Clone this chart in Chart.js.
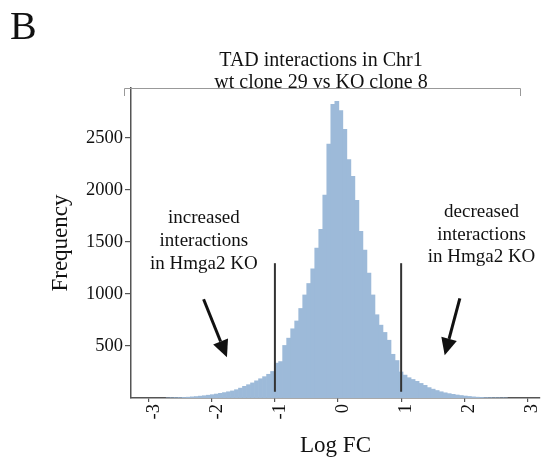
<!DOCTYPE html>
<html>
<head>
<meta charset="utf-8">
<script src="https://cdn.jsdelivr.net/npm/chart.js@4.4.1/dist/chart.umd.min.js"></script>
<style>
  body { margin: 0; background: #fff; }
  #wrap { position: relative; width: 548px; height: 465px; }
  #panel { position: absolute; left: 10px; top: 6px; font: 40px/40px "Liberation Serif", "Times New Roman", serif; color: #111; }
  #title { position: absolute; left: 171px; width: 300px; top: 49px; text-align: center;
           font: 20px/21.5px "Liberation Serif", "Times New Roman", serif; color: #111; }
</style>
</head>
<body>
<div id="wrap">
  <canvas id="chart" width="548" height="465"></canvas>
  <div id="panel">B</div>
  <div id="title">TAD interactions in Chr1<br>wt clone 29 vs KO clone 8</div>
</div>
<script>
// histogram bins (Log FC)
const binStart = -2.722;
const binWidth = 0.0636;
const counts = [
  1, 2, 3, 4, 6, 8, 11, 14, 18, 22,
  27, 32, 38, 45, 52, 60, 68, 80, 95, 112,
  128, 145, 165, 185, 205, 228, 255, 335, 350, 505,
  575, 665, 740, 860, 990, 1100, 1240, 1440, 1620, 1950,
  2440, 2820, 2850, 2760, 2580, 2290, 2130, 1900, 1600, 1420,
  1200, 990, 800, 700, 630, 555, 420, 360, 250, 220,
  195, 178, 160, 140, 122, 100, 85, 72, 60, 50,
  42, 35, 29, 24, 19, 15, 11, 8, 6, 4,
  3, 2, 2, 1, 1
];

// axis ticks
const xTicks = [-3, -2, -1, 0, 1, 2, 3];
const yTicks = [500, 1000, 1500, 2000, 2500];

// cut-off lines at |logFC| = 1
const cutoffs = [-1, 1];
const cutoffSpan = [60, 1295];

// notes and arrows (data coordinates)
const notes = [
  { x: -2.125, y: 1728, lines: ["increased", "interactions", "in Hmga2 KO"] },
  { x: 2.273, y: 1788, lines: ["decreased", "interactions", "in Hmga2 KO"] }
];
const arrows = [
  { from: [-2.13, 949], to: [-1.76, 391] },
  { from: [1.93, 958], to: [1.69, 410] }
];

const serif = '"Liberation Serif", "Times New Roman", serif';
Chart.defaults.font.family = serif;
Chart.defaults.color = "#111";

const histData = counts.map((c, i) => ({ x: binStart + (i + 0.5) * binWidth, y: c }));

const cutoffSets = cutoffs.map(v => ({
  type: "line",
  data: [{ x: v, y: cutoffSpan[0] }, { x: v, y: cutoffSpan[1] }],
  borderColor: "#333",
  borderWidth: 2,
  pointRadius: 0,
  order: 1
}));

const notesPlugin = {
  id: "notes",
  afterDatasetsDraw(chart) {
    const { ctx, scales: { x, y } } = chart;
    ctx.save();
    // arrows
    ctx.strokeStyle = "#111";
    ctx.fillStyle = "#111";
    ctx.lineWidth = 3;
    arrows.forEach(a => {
      const x0 = x.getPixelForValue(a.from[0]), y0 = y.getPixelForValue(a.from[1]);
      const x1 = x.getPixelForValue(a.to[0]), y1 = y.getPixelForValue(a.to[1]);
      const ang = Math.atan2(y1 - y0, x1 - x0);
      const head = 17, half = 8;
      const bx = x1 - head * Math.cos(ang), by = y1 - head * Math.sin(ang);
      ctx.beginPath();
      ctx.moveTo(x0, y0);
      ctx.lineTo(bx, by);
      ctx.stroke();
      ctx.beginPath();
      ctx.moveTo(x1, y1);
      ctx.lineTo(bx + half * Math.sin(ang), by - half * Math.cos(ang));
      ctx.lineTo(bx - half * Math.sin(ang), by + half * Math.cos(ang));
      ctx.closePath();
      ctx.fill();
    });
    // text
    ctx.font = "19px " + serif;
    ctx.textAlign = "center";
    ctx.textBaseline = "middle";
    notes.forEach(n => {
      const px = x.getPixelForValue(n.x), py = y.getPixelForValue(n.y);
      n.lines.forEach((t, i) => ctx.fillText(t, px, py + i * 22.7));
    });
    // thin frame line along the top of the plot
    const top = chart.chartArea.top;
    ctx.strokeStyle = "#999";
    ctx.lineWidth = 1;
    ctx.beginPath();
    ctx.moveTo(124.5, top + 8);
    ctx.lineTo(124.5, top + 0.5);
    ctx.lineTo(520.5, top + 0.5);
    ctx.lineTo(520.5, top + 8);
    ctx.stroke();
    ctx.restore();
  }
};

new Chart(document.getElementById("chart"), {
  data: {
    datasets: [
      {
        type: "bar",
        data: histData,
        backgroundColor: "#9dbad9",
        borderWidth: 0,
        barPercentage: 1,
        categoryPercentage: 1,
        grouped: false,
        order: 2
      },
      ...cutoffSets
    ]
  },
  options: {
    responsive: false,
    animation: false,
    devicePixelRatio: 1,
    layout: { padding: { left: 0, top: 88, right: 8, bottom: 0 } },
    plugins: { legend: { display: false }, tooltip: { enabled: false }, title: { display: false } },
    scales: {
      x: {
        type: "linear",
        offset: false,
        min: -3.28,
        max: 3.2,
        afterFit: s => { s.height = 67; s.paddingLeft = 0; s.paddingRight = 0; },
        afterBuildTicks: s => { s.ticks = xTicks.map(v => ({ value: v })); },
        ticks: { autoSkip: false, minRotation: 90, maxRotation: 90, padding: 2, labelOffset: 5,
                 font: { size: 18.5 }, color: "#111", callback: v => String(v) },
        grid: { offset: false, drawOnChartArea: false, drawTicks: true, tickLength: 4, color: "#555", lineWidth: 1.2 },
        border: { display: true, color: "#555", width: 1.5 },
        title: { display: true, text: "Log FC", font: { size: 23 }, color: "#111", padding: { top: 0, bottom: 5 } }
      },
      y: {
        min: 0,
        max: 2978,
        afterFit: s => { s.width = 131; s.paddingTop = 0; s.paddingBottom = 0; },
        afterBuildTicks: s => { s.ticks = yTicks.map(v => ({ value: v })); },
        ticks: { padding: 2, font: { size: 18.5 }, color: "#111", callback: v => String(v) },
        grid: { drawOnChartArea: false, drawTicks: true, tickLength: 6, color: "#555", lineWidth: 1.2 },
        border: { display: true, color: "#555", width: 1.5 },
        title: { display: true, text: "Frequency", font: { size: 23 }, color: "#111", padding: { top: 47, bottom: 0 } }
      }
    }
  },
  plugins: [notesPlugin]
});
</script>
</body>
</html>
